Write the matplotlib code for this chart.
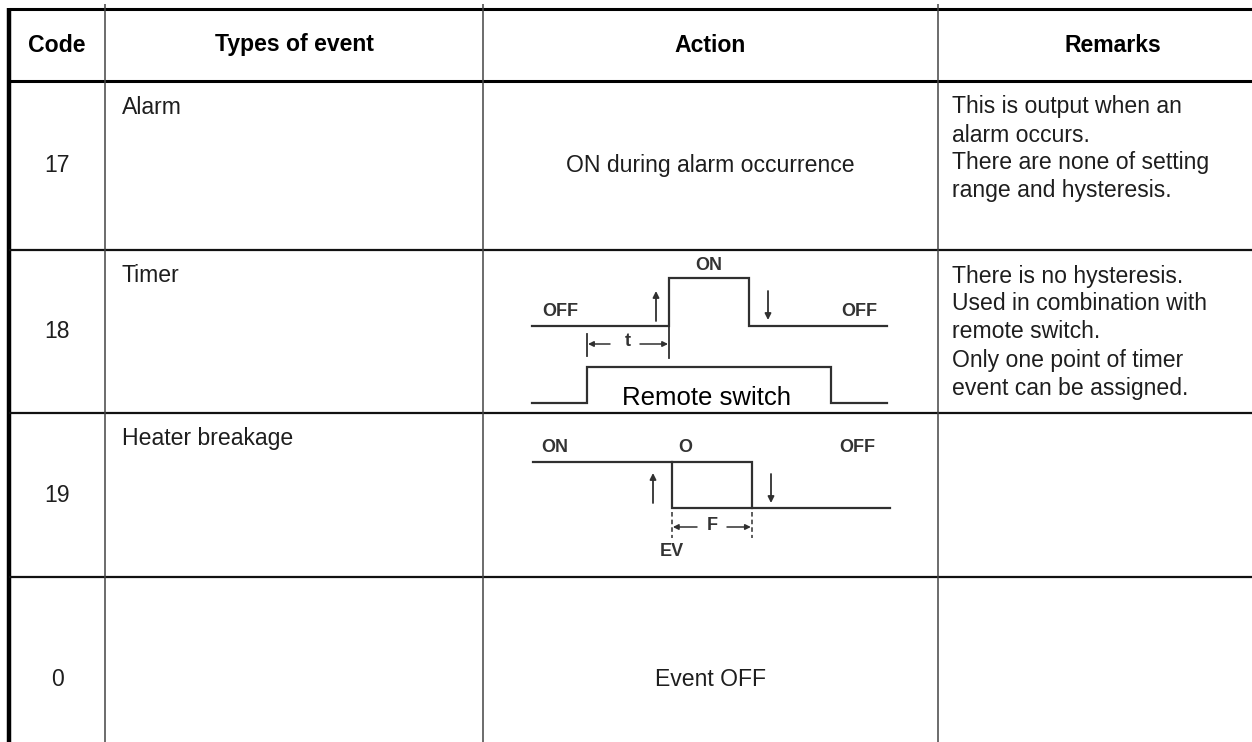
import matplotlib
matplotlib.use("Agg")
import matplotlib.pyplot as plt

# ---------------- data ----------------
headers = ["Code", "Types of event", "Action", "Remarks"]
codes = ["17", "18", "19", "0"]
event_types = ["Alarm", "Timer", "Heater breakage", ""]
actions = ["ON during alarm occurrence", None, None, "Event OFF"]
remarks = [
    ["This is output when an", "alarm occurs.", "There are none of setting", "range and hysteresis."],
    ["There is no hysteresis.", "Used in combination with", "remote switch.", "Only one point of timer", "event can be assigned."],
    [],
    [],
]
# waveforms (time 0..100 across the diagram, level 0=OFF / 1=ON)
timer_t = [0, 38.6, 38.6, 61.1, 61.1, 100]
timer_lv = [0, 0, 1, 1, 0, 0]
remote_t = [0, 15.5, 15.5, 84.2, 84.2, 100]
remote_lv = [0, 0, 1, 1, 0, 0]
heater_t = [0, 61.3, 61.3, 100]
heater_lv = [1, 1, 0, 0]
ev_t = [38.9, 38.9, 61.3]
ev_lv = [1, 0, 0]
remote_label = "Remote switch"

# ---------------- layout ----------------
W, H = 1252, 742
fig = plt.figure(figsize=(W / 100, H / 100), dpi=100)
ax = fig.add_axes([0, 0, 1, 1])
ax.set_xlim(0, W)
ax.set_ylim(H, 0)
ax.axis("off")

col_edges = [9, 105, 483, 938, 1288]
row_edges = [9, 81, 250, 413, 577, 783]

FONT = "Liberation Sans"
TXT = "#1e1e1e"
body_fs = 16.6
head_fs = 16.6

# table lines
ax.plot([9, W], [9, 9], color="black", lw=2.2, solid_capstyle="butt")
ax.plot([9, 9], [8, H], color="black", lw=3.2, solid_capstyle="butt")
ax.plot([9, W], [81, 81], color="black", lw=2.2, solid_capstyle="butt")
for y in row_edges[2:5]:
    ax.plot([9, W], [y, y], color="#111111", lw=1.6, solid_capstyle="butt")
for x in col_edges[1:4]:
    ax.plot([x, x], [4, H], color="#444444", lw=1.1, solid_capstyle="butt")

# headers
for i, h in enumerate(headers):
    cx = (col_edges[i] + col_edges[i + 1]) / 2
    ax.text(cx, 45, h, ha="center", va="center", fontsize=head_fs,
            fontweight="bold", family=FONT, color="black")

# body rows
for r in range(4):
    top, bot = row_edges[r + 1], row_edges[r + 2]
    cy = (top + bot) / 2
    ax.text((col_edges[0] + col_edges[1]) / 2, cy, codes[r], ha="center",
            va="center", fontsize=body_fs, family=FONT, color=TXT)
    if event_types[r]:
        ax.text(col_edges[1] + 17, top + 26, event_types[r], ha="left",
                va="center", fontsize=body_fs, family=FONT, color=TXT)
    if actions[r]:
        ax.text((col_edges[2] + col_edges[3]) / 2, cy, actions[r], ha="center",
                va="center", fontsize=body_fs, family=FONT, color=TXT)
    for k, line in enumerate(remarks[r]):
        ax.text(col_edges[3] + 14, top + 26 + 28 * k, line, ha="left",
                va="center", fontsize=body_fs, family=FONT, color=TXT)

WC = "#303030"
LBL = dict(fontsize=13, fontweight="bold", family=FONT, color="#333333",
           ha="center", va="center")


def wave(t, lv, x0, x1, ylo, yhi, **kw):
    xs = [x0 + (x1 - x0) * v / 100 for v in t]
    ys = [ylo + (yhi - ylo) * v for v in lv]
    ax.plot(xs, ys, color=WC, lw=1.6, solid_joinstyle="miter", **kw)
    return xs


def varrow(x, y_from, y_to):
    ax.annotate("", xy=(x, y_to), xytext=(x, y_from),
                arrowprops=dict(arrowstyle="-|>", color=WC, lw=1.3,
                                mutation_scale=9, shrinkA=0, shrinkB=0))


def harrow(x_from, x_to, y):
    ax.annotate("", xy=(x_to, y), xytext=(x_from, y),
                arrowprops=dict(arrowstyle="-|>", color=WC, lw=1.1,
                                mutation_scale=8, shrinkA=0, shrinkB=0))


# ---- Timer diagram (row 18)
tx = wave(timer_t, timer_lv, 532, 887, 326, 278)
ax.text((tx[2] + tx[3]) / 2, 265, "ON", **LBL)
ax.text(560, 312, "OFF", **LBL)
ax.text(859, 312, "OFF", **LBL)
varrow(656, 321, 291)
varrow(768, 291, 320)
rx = wave(remote_t, remote_lv, 532, 887, 403, 367)
# t dimension
ax.plot([rx[1], rx[1]], [334, 356], color=WC, lw=1.3)
ax.plot([tx[1], tx[1]], [326, 358], color=WC, lw=1.3)
harrow(610, rx[1] + 1, 344)
harrow(640, tx[1] - 1, 344)
ax.text((rx[1] + tx[1]) / 2, 342, "t", **LBL)
ax.text(706, 398, remote_label, ha="center", va="center", fontsize=18.5,
        family=FONT, color="black")

# ---- Heater breakage diagram (row 19)
hx = wave(heater_t, heater_lv, 533, 890, 508, 462)
ex = wave(ev_t, ev_lv, 533, 890, 508, 462)
ax.text(555, 448, "ON", **LBL)
ax.text(ex[0] + 13, 448, "O", **LBL)
ax.text(857, 448, "OFF", **LBL)
varrow(653, 503, 473)
varrow(771, 474, 503)
for x in (ex[0], hx[1]):
    ax.plot([x, x], [512, 538], color=WC, lw=1.1, ls=(0, (3, 2)))
harrow(697, ex[0] + 1, 527)
harrow(727, hx[1] - 1, 527)
ax.text((ex[0] + hx[1]) / 2, 526, "F", **LBL)
ax.text(ex[0], 552, "EV", **LBL)

fig.savefig("out.png", dpi=100)
